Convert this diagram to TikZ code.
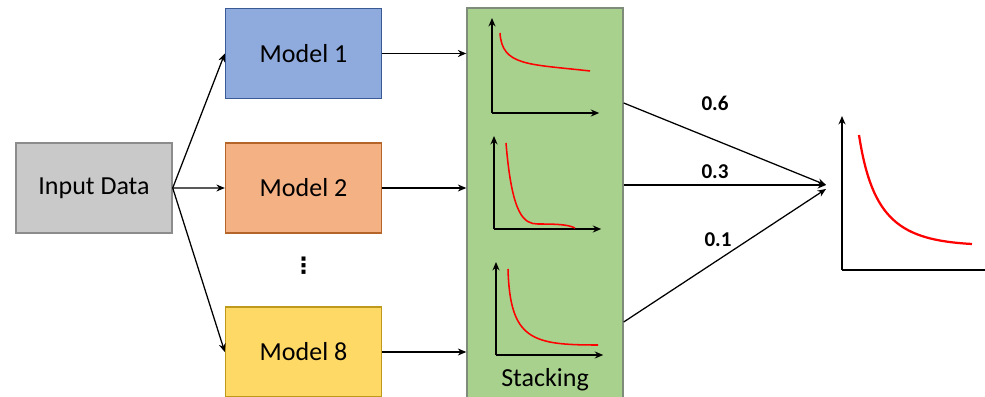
\documentclass[tikz,border=0pt]{standalone}
\usepackage{fontspec}
\setmainfont{Carlito}
\newfontfamily\symfont{DejaVu Sans}
\usepackage{tikz}
\usetikzlibrary{arrows.meta,positioning}
\definecolor{inputgray}{HTML}{C9C9C9}
\definecolor{inputgrayline}{HTML}{8C8C8C}
\definecolor{modelblue}{HTML}{8FAADC}
\definecolor{modelblueline}{HTML}{3A5A95}
\definecolor{modelorange}{HTML}{F4B183}
\definecolor{modelorangeline}{HTML}{B5652A}
\definecolor{modelyellow}{HTML}{FFD966}
\definecolor{modelyellowline}{HTML}{BF9A1A}
\definecolor{stackgreen}{HTML}{A9D18E}
\definecolor{stackgreenline}{HTML}{7F8C7A}
\tikzstyle{arrow} = [->,>={Stealth[length=6pt,width=5pt]},line width=0.9pt]
\tikzstyle{axis} = [->,>={Stealth[length=6pt,width=5pt]},line width=1.8pt]
\tikzstyle{curve} = [red,line width=1.1pt]
\tikzstyle{model} = [rectangle, minimum width=3.9cm, minimum height=2.25cm, text centered, line width=1pt, font=\fontsize{18.5}{22}\selectfont]
\tikzstyle{weight} = [font=\fontsize{15}{18}\selectfont\bfseries]

\begin{document}
\begin{tikzpicture}
\useasboundingbox (0,0) rectangle (24.625,9.9);
% Input and models
\node (input) [model, fill=inputgray, draw=inputgrayline] at (2.35,5.2) {Input Data};
\node (model1) [model, fill=modelblue, draw=modelblueline] at (7.5875,8.5625) {Model 1};
\node (model2) [model, fill=modelorange, draw=modelorangeline, below of=model1, node distance=3.3625cm] {Model 2};
\node (dots) [below of=model2, node distance=1.95cm, font=\symfont\bfseries\fontsize{16}{18}\selectfont] {⋮};
\node (model8) [model, fill=modelyellow, draw=modelyellowline, below of=model2, node distance=4.1cm] {Model 8};

% Stacking box
\node (stack) [rectangle, minimum width=3.9cm, minimum height=9.9cm, fill=stackgreen, draw=stackgreenline, line width=1pt] at (13.625,4.75) {};
\node (stacklabel) [font=\fontsize{18.5}{22}\selectfont] at (13.625,0.4) {Stacking};

% Arrows in
\draw[arrow] (input.east) -- (model1.west);
\draw[arrow] (input.east) -- (model2.west);
\draw[arrow] (input.east) -- (model8.west);
\draw[arrow] (model1.east) -- (model1.east -| stack.west);
\draw[arrow] (model2.east) -- (model2.east -| stack.west);
\draw[arrow] (model8.east) -- (model8.east -| stack.west);

% Small plots
\draw[axis] (12.3,7.075) -- (12.3,9.45);
\draw[axis] (12.3,7.075) -- (14.98,7.075);
\draw[curve] (12.5,9.075) .. controls (12.55,8.25) and (13.2,8.3) .. (14.75,8.125);
\draw[axis] (12.35,4.175) -- (12.35,6.5);
\draw[axis] (12.35,4.175) -- (15.03,4.175);
\draw[curve] (12.65,6.325) .. controls (12.8,4.5) and (13.1,4.3) .. (13.45,4.3) .. controls (14,4.3) and (14.2,4.28) .. (14.375,4.2);
\draw[axis] (12.4,1.025) -- (12.4,3.35);
\draw[axis] (12.4,1.025) -- (15.08,1.025);
\draw[curve] (12.7,3.175) .. controls (12.75,1.4) and (13.3,1.275) .. (14.95,1.275);

% Output plot
\coordinate (result) at (20.65,5.275);
\draw[axis] (21.05,3.15) -- (21.05,7.0);
\draw[axis] (21.05,3.15) -- (24.9,3.15);
\draw[curve, line width=1.6pt] (21.475,6.525) .. controls (21.8,4.4) and (22.5,3.9) .. (24.3,3.8);

% Weighted arrows out
\draw[arrow] ([yshift=2.575cm]stack.east) -- (result);
\draw[arrow] ([yshift=0.525cm]stack.east) -- (result);
\draw[arrow] ([yshift=-2.9cm]stack.east) -- ([yshift=-0.1cm]result);
\node (w1) [weight] at (17.875,7.325) {0.6};
\node (w2) [weight] at (17.875,5.6) {0.3};
\node (w3) [weight] at (17.95,3.9) {0.1};
\end{tikzpicture}
\end{document}
